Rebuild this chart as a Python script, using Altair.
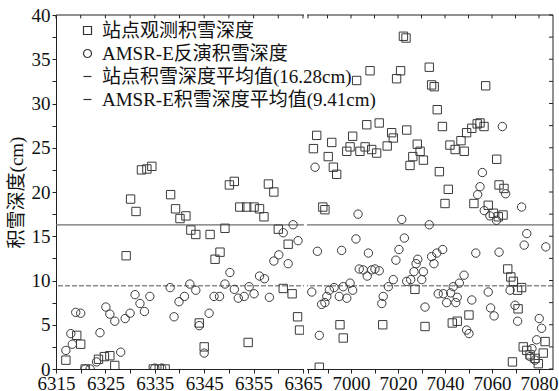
import altair as alt
import pandas as pd

# ---------------- data ----------------
# station observed snow depth (squares)
obs_x = [6317.0, 6319.2, 6320.0, 6320.9, 6323.6, 6324.8, 6325.9, 6326.9, 6329.2, 6330.1,
         6331.2, 6332.3, 6333.4, 6334.4, 6334.7, 6335.9, 6337.1, 6338.2, 6339.2, 6340.1,
         6341.3, 6342.3, 6343.3, 6344.0, 6345.0, 6346.2, 6347.2, 6348.2, 6349.2, 6350.1,
         6351.1, 6352.2, 6353.6, 6353.9, 6355.1, 6356.2, 6357.1, 6358.0, 6359.1, 6360.0,
         6361.0, 6362.0, 6362.8, 6363.9, 6364.3,
         6984.0, 6985.4, 6986.5, 6988.0, 6988.9, 6990.3, 6991.8, 6992.5, 6993.9, 6995.3,
         6996.7, 6998.2, 6999.6, 7000.7, 7002.4, 7003.8, 7006.0, 7006.7, 7008.1, 7008.8,
         7010.9, 7012.0, 7013.5, 7015.4, 7017.3, 7018.0, 7019.4, 7021.1, 7022.3, 7023.4,
         7023.7, 7025.1, 7026.3, 7027.2, 7028.2, 7029.4, 7030.8, 7031.5, 7033.3, 7034.3,
         7035.4, 7036.7, 7037.6, 7038.9, 7040.0, 7041.4, 7042.1, 7043.1, 7044.3, 7045.2,
         7046.8, 7048.2, 7049.2, 7050.2, 7051.4, 7052.3, 7053.7, 7054.9, 7056.6, 7057.3,
         7058.4, 7060.6, 7062.0, 7062.7, 7063.0, 7064.7, 7065.1, 7066.7, 7068.0, 7068.7,
         7069.1, 7070.9, 7071.1, 7072.6, 7073.3, 7074.8, 7076.2, 7078.3, 7079.7, 7081.8,
         7082.6]
obs_y = [1.0, 3.8, 2.8, 0.0, 1.1, 1.4, 1.5, 0.4, 12.8, 19.2,
         17.8, 22.5, 22.6, 22.9, 0.0, 0.0, 0.0, 19.7, 18.1, 17.0,
         17.3, 15.7, 15.2, 5.2, 2.5, 15.2, 12.4, 13.2, 15.9, 20.8,
         21.2, 18.3, 18.3, 3.0, 18.3, 18.1, 17.2, 20.9, 20.0, 15.8,
         9.1, 14.1, 8.5, 5.9, 4.4,
         24.9, 26.4, 0.2, 18.3, 18.0, 24.0, 25.6, 22.8, 22.0, 5.0,
         3.5, 24.6, 25.1, 26.3, 32.6, 24.6, 25.1, 27.6, 33.7, 24.8,
         24.4, 27.8, 5.0, 25.2, 26.7, 26.1, 32.8, 33.7, 37.6, 37.4,
         27.0, 23.0, 24.0, 9.0, 25.4, 24.6, 23.6, 4.8, 34.1, 32.1,
         31.9, 29.3, 22.3, 27.4, 18.7, 20.3, 25.3, 5.2, 24.8, 5.4,
         25.8, 24.6, 26.7, 6.1, 27.2, 18.7, 27.7, 27.8, 27.4, 32.0,
         18.5, 17.6, 23.7, 17.2, 20.8, 17.4, 20.4, 11.3, 10.4, 0.8,
         9.9, 8.9, 6.8, 9.2, 2.5, 2.1, 1.6, 1.2, 0.6, 1.8,
         3.1]

# AMSR-E retrieved snow depth (circles)
amsr_x = [6317.0, 6318.0, 6318.3, 6319.0, 6320.0, 6320.9, 6321.9, 6323.2, 6323.9, 6325.1,
          6325.9, 6326.9, 6328.1, 6329.0, 6330.0, 6331.0, 6332.0, 6332.9, 6334.0, 6335.0,
          6336.4, 6338.1, 6338.9, 6339.9, 6341.0, 6342.1, 6343.3, 6344.0, 6345.0, 6346.0,
          6347.0, 6348.1, 6349.2, 6350.2, 6351.1, 6351.9, 6353.1, 6354.1, 6355.1, 6356.2,
          6357.2, 6358.2, 6359.1, 6360.1, 6361.0, 6362.0, 6363.0, 6364.0,
          6983.3, 6984.7, 6985.7, 6986.5, 6987.5, 6988.9, 6989.7, 6990.8, 6992.8, 6995.0,
          6996.0, 6996.7, 6998.2, 6999.6, 7000.7, 7002.1, 7003.0, 7003.5, 7005.2, 7006.9,
          7007.4, 7008.8, 7010.2, 7012.0, 7013.1, 7013.7, 7015.9, 7018.0, 7019.1, 7020.4,
          7021.6, 7022.7, 7023.7, 7025.4, 7026.8, 7027.7, 7028.4, 7030.1, 7030.8, 7031.5,
          7033.3, 7034.3, 7035.3, 7036.5, 7037.1, 7039.0, 7039.3, 7040.7, 7042.4, 7043.5,
          7044.6, 7045.2, 7046.1, 7048.1, 7049.2, 7050.2, 7051.4, 7053.1, 7053.9, 7054.9,
          7055.9, 7056.7, 7058.4, 7059.1, 7059.4, 7060.9, 7061.9, 7063.0, 7064.4, 7065.8,
          7067.7, 7069.8, 7070.9, 7072.6, 7073.7, 7074.8, 7076.2, 7077.0, 7078.3, 7079.0,
          7080.1, 7081.1, 7082.9]
amsr_y = [2.1, 4.0, 2.8, 6.4, 6.3, 0.0, 0.0, 0.8, 4.1, 7.0,
          6.2, 5.4, 1.9, 5.7, 6.3, 8.4, 7.4, 6.5, 8.2, 0.1,
          0.1, 9.2, 5.9, 7.6, 8.2, 9.6, 8.9, 4.9, 1.8, 6.3,
          8.2, 8.2, 9.6, 10.9, 9.0, 8.0, 8.2, 9.3, 8.5, 10.5,
          10.2, 8.1, 12.2, 12.9, 15.4, 11.9, 16.3, 14.5,
          8.7, 22.8, 13.3, 3.8, 7.3, 7.5, 8.2, 8.9, 9.2, 8.2,
          13.4, 9.3, 8.0, 9.7, 8.9, 14.7, 17.5, 11.3, 11.2, 10.5,
          13.1, 11.2, 11.3, 11.1, 7.4, 8.2, 9.3, 10.1, 12.3, 13.5,
          16.9, 14.8, 9.9, 10.1, 11.0, 11.9, 12.4, 10.1, 11.0, 7.0,
          16.3, 12.7, 11.9, 13.1, 8.5, 13.5, 8.5, 7.5, 8.6, 9.3,
          7.5, 8.1, 9.7, 10.6, 4.4, 4.0, 7.8, 13.1, 19.7, 20.6,
          22.2, 17.9, 8.7, 17.3, 6.9, 6.0, 16.8, 13.2, 27.4, 19.8,
          8.9, 7.2, 5.4, 18.3, 14.0, 15.3, 1.4, 2.3, 1.0, 3.3,
          5.7, 4.6, 13.8]

series_names = ["站点观测积雪深度", "AMSR-E反演积雪深度",
                "站点积雪深度平均值(16.28cm)", "AMSR-E积雪深度平均值(9.41cm)"]
mean_values = [16.28, 9.41]

# axis ticks (original units)
left_ticks = [6315, 6320, 6325, 6330, 6335, 6340, 6345, 6350, 6355, 6360, 6365]
right_ticks = [6990, 7000, 7010, 7020, 7030, 7040, 7050, 7060, 7070, 7080]
y_ticks = [i * 2.5 for i in range(17)]

# ---------------- broken-axis mapping ----------------
R_OFF = 6374.72     # position of 7000 on the shared axis
R_K = 0.4757        # compression of the right segment
RIGHT_START = 6981.7
X_MAX = 6415.61


def to_pos(v):
    return v if v < 6600 else R_OFF + (v - 7000) * R_K


xtick_pos = [to_pos(v) for v in left_ticks] + [to_pos(RIGHT_START)] + [to_pos(v) for v in right_ticks]
gap_lo, gap_hi = 6365.2, to_pos(RIGHT_START) - 0.2

pts = pd.DataFrame({
    "x": obs_x + amsr_x,
    "depth": obs_y + amsr_y,
    "series": [series_names[0]] * len(obs_x) + [series_names[1]] * len(amsr_x),
})
means = pd.DataFrame({"depth": mean_values, "which": ["obs", "amsr"]})
ticks_top = pd.DataFrame({"pos": xtick_pos})
ticks_right = pd.DataFrame({"depth": y_ticks})
gap = pd.DataFrame({"pos": [gap_lo], "pos2": [gap_hi]})
frame_top = pd.DataFrame({"depth": [40]})
frame_right = pd.DataFrame({"pos": [X_MAX]})

SERIF = "'Liberation Serif', 'Noto Sans CJK SC'"
INK = "#222"
xscale = alt.Scale(domain=[6315, X_MAX], nice=False, zero=False)
yscale = alt.Scale(domain=[0, 40], nice=False, zero=False)

x_label_expr = (
    "datum.value < 6365.5 ? (abs((datum.value - 6315) % 10) < 0.01 ? format(datum.value, 'd') : '') : "
    f"(datum.value > 6370 && round(7000 + (datum.value - {R_OFF}) / {R_K}) % 20 == 0 ? "
    f"format(round(7000 + (datum.value - {R_OFF}) / {R_K}), 'd') : '')"
)

xaxis = alt.Axis(values=xtick_pos, labelExpr=x_label_expr, title=None, domain=True,
                 domainColor=INK, domainWidth=1,
                 grid=False, tickSize=4, tickColor=INK, labelOverlap=False,
                 labelFlush=False, labelPadding=1, labelFont="Liberation Serif",
                 labelFontSize=19, labelColor="#111")
yaxis = alt.Axis(values=y_ticks, labelExpr="datum.value % 5 == 0 ? format(datum.value, 'd') : ''",
                 title="积雪深度(cm)", domain=True, domainColor=INK, domainWidth=1,
                 grid=False, tickSize=4,
                 tickColor=INK, labelOverlap=False, labelPadding=2,
                 labelFont="Liberation Serif", labelFontSize=19, labelColor="#111",
                 titleFont=SERIF, titleFontSize=19, titleFontWeight="normal",
                 titleColor="#111", titlePadding=5)

points = alt.Chart(pts).transform_calculate(
    pos=f"datum.x < 6600 ? datum.x : {R_OFF} + (datum.x - 7000) * {R_K}"
).mark_point(filled=False, size=70, strokeWidth=1, color="#3a3a3a", opacity=1, clip=True).encode(
    x=alt.X("pos:Q", scale=xscale, axis=xaxis),
    y=alt.Y("depth:Q", scale=yscale, axis=yaxis),
    shape=alt.Shape("series:N",
                    scale=alt.Scale(domain=series_names,
                                    range=["square", "circle", "M-1,0H1", "M-1,0H1"]),
                    legend=alt.Legend(title=None, orient="none", legendX=22, legendY=6,
                                      labelFont=SERIF, labelFontSize=19, labelColor="#111",
                                      labelLimit=500,
                                      symbolSize=64, symbolStrokeWidth=1.2,
                                      symbolStrokeColor="#333", symbolFillColor="transparent",
                                      rowPadding=3, labelOffset=5, padding=0)),
)

mean_obs = alt.Chart(means[means.which == "obs"]).mark_rule(
    color="#6e6e6e", strokeWidth=1.4
).encode(y=alt.Y("depth:Q", scale=yscale, axis=yaxis))

mean_amsr = alt.Chart(means[means.which == "amsr"]).mark_rule(
    color="#8c8c8c", strokeWidth=1.4, strokeDash=[5, 2]
).encode(y=alt.Y("depth:Q", scale=yscale, axis=yaxis))

top_line = alt.Chart(frame_top).mark_rule(color=INK, strokeWidth=1).encode(
    y=alt.Y("depth:Q", scale=yscale, axis=yaxis))

right_line = alt.Chart(frame_right).mark_rule(color=INK, strokeWidth=1).encode(
    x=alt.X("pos:Q", scale=xscale, axis=xaxis))

top_ticks = alt.Chart(ticks_top).mark_rule(color=INK, strokeWidth=1).encode(
    x=alt.X("pos:Q", scale=xscale, axis=xaxis),
    y=alt.YDatum(40, scale=yscale, axis=yaxis),
    y2=alt.datum(39.62),
)

right_ticks_m = alt.Chart(ticks_right).mark_rule(color=INK, strokeWidth=1).encode(
    y=alt.Y("depth:Q", scale=yscale, axis=yaxis),
    x=alt.XDatum(X_MAX, scale=xscale, axis=xaxis),
    x2=alt.datum(X_MAX - 0.8),
)

gap_rect = alt.Chart(gap).mark_rect(color="white", strokeWidth=0).encode(
    x=alt.X("pos:Q", scale=xscale, axis=xaxis),
    x2="pos2:Q",
    y=alt.YDatum(-0.6, scale=yscale, axis=yaxis),
    y2=alt.datum(40.6),
)

chart = alt.layer(mean_obs, mean_amsr, points, top_line, right_line, top_ticks,
                  right_ticks_m, gap_rect).properties(
    width=497, height=354,
    background="white",
    autosize=alt.AutoSizeParams(type="none"),
    padding={"left": 56, "top": 15, "right": 6, "bottom": 22},
).configure_view(
    stroke=None
)

chart.save("out.html", embed_options={"renderer": "svg", "actions": False})
